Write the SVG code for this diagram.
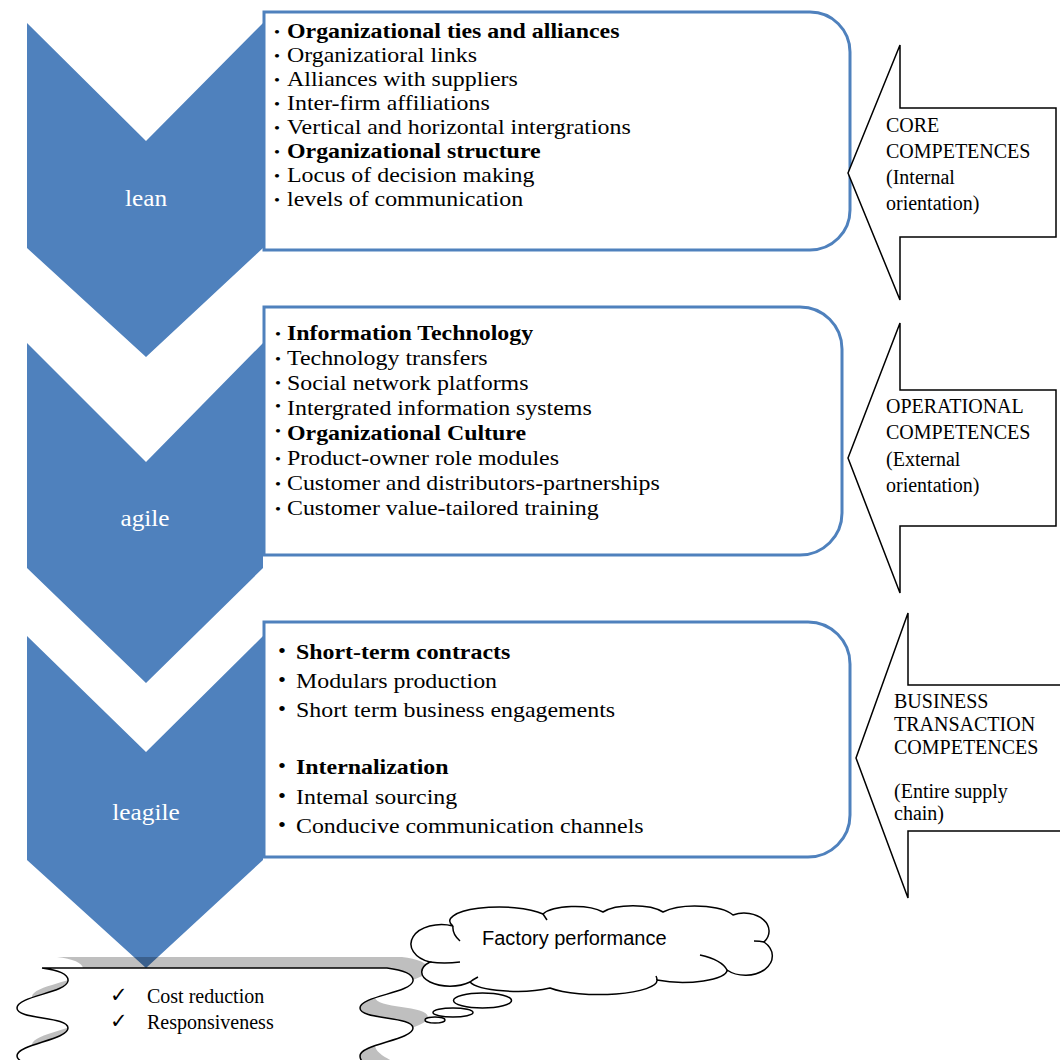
<svg xmlns="http://www.w3.org/2000/svg" width="1060" height="1060" viewBox="0 0 1060 1060">
<style>
.chev{fill:#4F81BD}
.box{fill:#fff;stroke:#4F81BD;stroke-width:3}
.arr{fill:#fff;stroke:#000;stroke-width:1.5;stroke-linejoin:miter}
.t{font-family:"Liberation Serif","Times New Roman",serif;font-size:21px;fill:#000}
.b{font-weight:bold}
.bul{font-family:"Liberation Serif","Times New Roman",serif;font-size:15px;fill:#000}
.bul3{font-family:"Liberation Serif","Times New Roman",serif;font-size:20px;fill:#000}
.lbl{font-family:"Liberation Serif","Times New Roman",serif;font-size:23px;fill:#fff}
.at{font-family:"Liberation Serif","Times New Roman",serif;font-size:20px;fill:#000}
.ln{fill:#fff;stroke:#000;stroke-width:1.5}
.open{fill:none;stroke:#000;stroke-width:1.5}
.ck{font-family:"DejaVu Sans",sans-serif;font-size:21px;fill:#000}
</style>
<rect width="1060" height="1060" fill="#fff"/>
<g id="connectors"/>
<g id="lean">
<polygon class="chev" points="27,23 146,141 263,23 263,248 146,357 27,248"/>
<text class="lbl" text-anchor="middle" transform="translate(146 206) scale(1.1 1)">lean</text>
</g>
<g id="agile">
<polygon class="chev" points="27,343 146,462 263,343 263,568 146,683 27,568"/>
<text class="lbl" text-anchor="middle" transform="translate(145 526) scale(1.1 1)">agile</text>
</g>
<g id="leagile">
<polygon class="chev" points="27,636 146,752 263,636 263,860 146,968 27,860"/>
<text class="lbl" text-anchor="middle" transform="translate(146 820) scale(1.1 1)">leagile</text>
</g>
<g id="box-lean">
<path class="box" d="M264,12 H810 A40,40 0 0 1 850,52 V210 A40,40 0 0 1 810,250 H264 Z"/>
<g transform="translate(287 0) scale(1.138 1)">
<text class="bul" x="-8.8" y="37.5" text-anchor="middle">•</text>
<text class="bul" x="-8.8" y="61.5" text-anchor="middle">•</text>
<text class="bul" x="-8.8" y="85.5" text-anchor="middle">•</text>
<text class="bul" x="-8.8" y="109.5" text-anchor="middle">•</text>
<text class="bul" x="-8.8" y="133.5" text-anchor="middle">•</text>
<text class="bul" x="-8.8" y="157.5" text-anchor="middle">•</text>
<text class="bul" x="-8.8" y="181.5" text-anchor="middle">•</text>
<text class="bul" x="-8.8" y="205.5" text-anchor="middle">•</text>
<text class="t b" x="0" y="38.5">Organizational ties and alliances</text>
<text class="t" x="0" y="62.5">Organizatioral links</text>
<text class="t" x="0" y="86.5">Alliances with suppliers</text>
<text class="t" x="0" y="110.5">Inter-firm affiliations</text>
<text class="t" x="0" y="134.5">Vertical and horizontal intergrations</text>
<text class="t b" x="0" y="158.5">Organizational structure</text>
<text class="t" x="0" y="182.5">Locus of decision making</text>
<text class="t" x="0" y="206.5">levels of communication</text>
</g>
</g>
<g id="box-agile">
<path class="box" d="M264,307 H800 A42,42 0 0 1 842,349 V513 A42,42 0 0 1 800,555 H264 Z"/>
<g transform="translate(287 0) scale(1.138 1)">
<text class="bul" x="-7.9" y="339.5" text-anchor="middle">•</text>
<text class="bul" x="-7.9" y="364.4" text-anchor="middle">•</text>
<text class="bul" x="-7.9" y="388.3" text-anchor="middle">•</text>
<text class="bul" x="-7.9" y="411.2" text-anchor="middle">•</text>
<text class="bul" x="-7.9" y="436.1" text-anchor="middle">•</text>
<text class="bul" x="-7.9" y="464" text-anchor="middle">•</text>
<text class="bul" x="-7.9" y="488.9" text-anchor="middle">•</text>
<text class="bul" x="-7.9" y="513.8" text-anchor="middle">•</text>
<text class="t b" x="0" y="340.5">Information Technology</text>
<text class="t" x="0" y="365.4">Technology transfers</text>
<text class="t" x="0" y="390.3">Social network platforms</text>
<text class="t" x="0" y="415.2">Intergrated information systems</text>
<text class="t b" x="0" y="440.1">Organizational Culture</text>
<text class="t" x="0" y="465">Product-owner role modules</text>
<text class="t" x="0" y="489.9">Customer and distributors-partnerships</text>
<text class="t" x="0" y="514.8">Customer value-tailored training</text>
</g>
</g>
<g id="box-leagile">
<path class="box" d="M264,622 H808 A42,42 0 0 1 850,664 V815 A42,42 0 0 1 808,857 H264 Z"/>
<g transform="translate(296 0) scale(1.138 1)">
<text class="bul3" x="-12.3" y="658" text-anchor="middle">•</text>
<text class="bul3" x="-12.3" y="687" text-anchor="middle">•</text>
<text class="bul3" x="-12.3" y="716" text-anchor="middle">•</text>
<text class="bul3" x="-12.3" y="773.5" text-anchor="middle">•</text>
<text class="bul3" x="-12.3" y="803" text-anchor="middle">•</text>
<text class="bul3" x="-12.3" y="832" text-anchor="middle">•</text>
<text class="t b" x="0" y="659">Short-term contracts</text>
<text class="t" x="0" y="688">Modulars production</text>
<text class="t" x="0" y="717">Short term business engagements</text>
<text class="t b" x="0" y="774.5">Internalization</text>
<text class="t" x="0" y="804">Intemal sourcing</text>
<text class="t" x="0" y="833">Conducive communication channels</text>
</g>
</g>
<g id="arrow-core">
<polygon class="arr" points="848,173 900,45 900,108 1056,108 1056,237 900,237 900,300"/>
<text class="at" x="886" y="132">CORE</text>
<text class="at" x="886" y="158">COMPETENCES</text>
<text class="at" x="886" y="184">(Internal</text>
<text class="at" x="886" y="210">orientation)</text>
</g>
<g id="arrow-operational">
<polygon class="arr" points="848,458 900,323 900,390 1056,390 1056,526 900,526 900,593"/>
<text class="at" x="886" y="413">OPERATIONAL</text>
<text class="at" x="886" y="439">COMPETENCES</text>
<text class="at" x="886" y="466">(External</text>
<text class="at" x="886" y="492">orientation)</text>
</g>
<g id="arrow-business">
<polygon class="arr" points="856,758 908,613 908,685 1072,685 1072,831 908,831 908,898"/>
<text class="at" x="894" y="708">BUSINESS</text>
<text class="at" x="894" y="731">TRANSACTION</text>
<text class="at" x="894" y="754">COMPETENCES</text>
<text class="at" x="894" y="798">(Entire supply</text>
<text class="at" x="894" y="820">chain)</text>
</g>
<g id="outcomes">
<path fill="#000" fill-opacity="0.25" transform="translate(15 -11)" d="M42,968 L387,968 C403,970 414,974 413,981 C411,993 360,996 360,1008 C360,1020 413,1016 413,1028 C413,1040 360,1044 360,1056 C360,1066 380,1072 390,1080 L70,1080 C60,1072 17,1066 17,1056 C17,1044 68,1040 68,1028 C68,1016 17,1020 17,1008 C17,996 66,993 68,981 C69,974 58,970 42,968 Z"/>
<path class="ln" d="M42,968 L387,968 C403,970 414,974 413,981 C411,993 360,996 360,1008 C360,1020 413,1016 413,1028 C413,1040 360,1044 360,1056 C360,1066 380,1072 390,1080 L70,1080 C60,1072 17,1066 17,1056 C17,1044 68,1040 68,1028 C68,1016 17,1020 17,1008 C17,996 66,993 68,981 C69,974 58,970 42,968 Z"/>
<text class="ck" x="110" y="1002">✓</text>
<text class="ck" x="110" y="1028">✓</text>
<text class="at" x="147" y="1003">Cost reduction</text>
<text class="at" x="147" y="1028.5">Responsiveness</text>
</g>
<g id="factory-performance">
<path class="ln" d="M453,926 A50,14 0 0 1 543,914 A34,12 0 0 1 603,912 A34,12 0 0 1 663,912 A40,14 0 0 1 733,915 A25,18 0 0 1 764,942 A25,18 0 0 1 727,970 A44,12 0 0 1 657,980 A58,14 0 0 1 550,988 A48,12 0 0 1 470,982 A24,12 0 0 1 430,962 A22,14 0 0 1 453,926 Z"/>
<path class="open" d="M453,926 Q452,934 460,941 M430,962 Q444,964 460,962 M727,970 Q722,960 700,955 M764,942 Q760,941 754,941 M543,914 Q545,917 547,920 M470,982 Q474,979 478,977 M657,980 Q657,978 656,976"/>
<ellipse class="ln" cx="482.5" cy="1000.5" rx="29" ry="7.5"/>
<ellipse class="ln" cx="453" cy="1012.5" rx="20" ry="4.5"/>
<ellipse class="ln" cx="435" cy="1020" rx="10" ry="3"/>
<text x="482" y="945" style="font-family:'Liberation Sans',Arial,sans-serif;font-size:20px;fill:#000">Factory performance</text>
</g>
</svg>
